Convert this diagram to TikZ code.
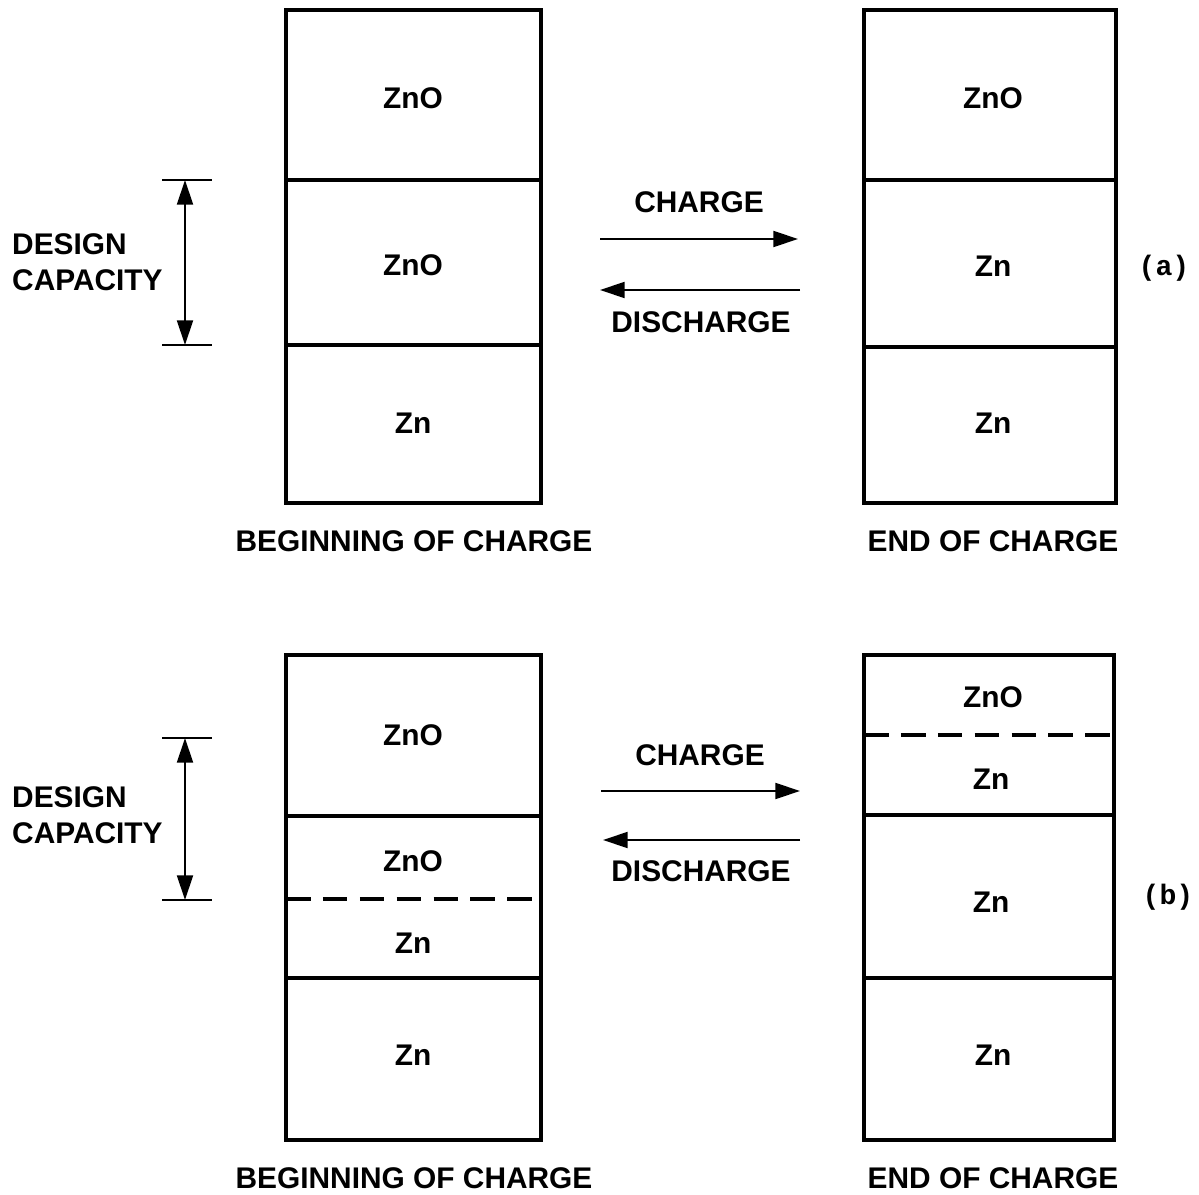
\documentclass[tikz,border=0pt]{standalone}
\usepackage{fontspec}
\setmainfont{Liberation Sans}
\newfontfamily\tagfont{Liberation Mono}
\usetikzlibrary{arrows.meta}

\begin{document}
\begin{tikzpicture}[x=0.02cm,y=-0.02cm,
  every node/.style={font=\bfseries\fontsize{17}{20.5}\selectfont},
  cell/.style={line width=2pt},
  split/.style={line width=2.2pt,dash pattern=on 14pt off 7pt},
  flow/.style={line width=1.4pt,-{Triangle[length=14pt,width=9pt]}},
  span/.style={line width=1.4pt,{Triangle[length=14pt,width=9pt]}-{Triangle[length=14pt,width=9pt]}},
  tick/.style={line width=1.1pt}]
\useasboundingbox (0,0) rectangle (1199,1195);
% (a)
\draw[cell] (286,10) rectangle (541,503);
\draw[cell] (286,180)--(541,180);
\draw[cell] (286,345)--(541,345);
\node (aL1) at (413,98) {ZnO};
\node (aL2) at (413,265) {ZnO};
\node (aL3) at (413,423) {Zn};
\draw[cell] (864,10) rectangle (1116,503);
\draw[cell] (864,180)--(1116,180);
\draw[cell] (864,347)--(1116,347);
\node (aR1) at (993,98) {ZnO};
\node (aR2) at (993,266) {Zn};
\node (aR3) at (993,423) {Zn};
\coordinate (aT1) at (162,180);
\coordinate (aT2) at (212,180);
\coordinate (aB1) at (162,345);
\coordinate (aB2) at (212,345);
\coordinate (aTop) at (185,180);
\coordinate (aBot) at (185,345);
\draw[tick] (aT1)--(aT2);
\draw[tick] (aB1)--(aB2);
\draw[span] (aTop)--(aBot);
\node[align=left,anchor=west] (aCap) at (6,262) {DESIGN\\CAPACITY};
\coordinate (aC1) at (600,239);
\coordinate (aC2) at (798,239);
\coordinate (aD1) at (800,290);
\coordinate (aD2) at (600,290);
\draw[flow] (aC1)--(aC2);
\draw[flow] (aD1)--(aD2);
\node (aChg) at (699,202) {CHARGE};
\node (aDis) at (701,322) {DISCHARGE};
\node[font=\tagfont\bfseries\fontsize{16}{19}\selectfont] (aTag) at (1164,268) {(a)};
\node (aBeg) at (414,541) {BEGINNING OF CHARGE};
\node (aEnd) at (993,541) {END OF CHARGE};
% (b)
\draw[cell] (286,655) rectangle (541,1140);
\draw[cell] (286,816)--(541,816);
\draw[split] (286,899)--(541,899);
\draw[cell] (286,978)--(541,978);
\node (bL1) at (413,735) {ZnO};
\node (bL2) at (413,861) {ZnO};
\node (bL3) at (413,943) {Zn};
\node (bL4) at (413,1055) {Zn};
\draw[cell] (864,655) rectangle (1114,1140);
\draw[split] (864,735)--(1114,735);
\draw[cell] (864,815)--(1114,815);
\draw[cell] (864,978)--(1114,978);
\node (bR1) at (993,697) {ZnO};
\node (bR2) at (991,779) {Zn};
\node (bR3) at (991,902) {Zn};
\node (bR4) at (993,1055) {Zn};
\coordinate (bT1) at (162,738);
\coordinate (bT2) at (212,738);
\coordinate (bB1) at (162,900);
\coordinate (bB2) at (212,900);
\coordinate (bTop) at (185,738);
\coordinate (bBot) at (185,900);
\draw[tick] (bT1)--(bT2);
\draw[tick] (bB1)--(bB2);
\draw[span] (bTop)--(bBot);
\node[align=left,anchor=west] (bCap) at (6,815) {DESIGN\\CAPACITY};
\coordinate (bC1) at (601,791);
\coordinate (bC2) at (800,791);
\coordinate (bD1) at (800,840);
\coordinate (bD2) at (603,840);
\draw[flow] (bC1)--(bC2);
\draw[flow] (bD1)--(bD2);
\node (bChg) at (700,755) {CHARGE};
\node (bDis) at (701,871) {DISCHARGE};
\node[font=\tagfont\bfseries\fontsize{16}{19}\selectfont] (bTag) at (1168,897) {(b)};
\node (bBeg) at (414,1178) {BEGINNING OF CHARGE};
\node (bEnd) at (993,1178) {END OF CHARGE};
\end{tikzpicture}
\end{document}
